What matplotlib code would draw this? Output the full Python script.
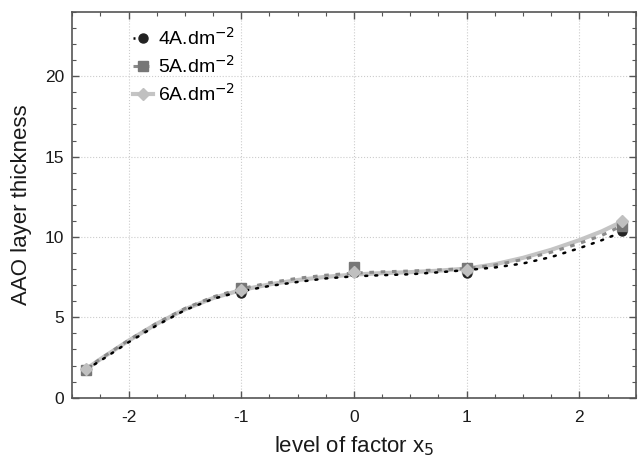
import numpy as np
import matplotlib.pyplot as plt

plt.rcParams['font.family'] = ['Liberation Sans', 'DejaVu Sans']
plt.rcParams['axes.unicode_minus'] = False

# design points of factor x5 (star points at +-2.378)
x_pts = [-2.378, -1, 0, 1, 2.378]
y_4a = [1.75, 6.5, 7.8, 7.75, 10.35]
y_5a = [1.75, 6.8, 8.1, 8.05, 10.7]
y_6a = [1.8, 6.7, 7.85, 7.95, 11.0]

# model curves sampled along x5
x_fit = [-2.378, -2.25, -2, -1.75, -1.5, -1.25, -1, -0.75, -0.5, -0.25, 0,
         0.25, 0.5, 0.75, 1, 1.25, 1.5, 1.75, 2, 2.2, 2.378]
fit_4a = [1.75, 2.3, 3.45, 4.5, 5.45, 6.15, 6.62, 6.95, 7.2, 7.42, 7.55,
          7.62, 7.68, 7.8, 7.94, 8.1, 8.35, 8.75, 9.3, 9.8, 10.3]
fit_5a = [1.78, 2.42, 3.58, 4.64, 5.55, 6.27, 6.78, 7.15, 7.43, 7.62, 7.75,
          7.83, 7.88, 7.95, 8.03, 8.25, 8.6, 9.05, 9.6, 10.1, 10.7]
fit_6a = [1.78, 2.4, 3.55, 4.6, 5.5, 6.2, 6.7, 7.05, 7.32, 7.52, 7.66,
          7.75, 7.81, 7.9, 8.03, 8.3, 8.7, 9.2, 9.8, 10.35, 10.95]

fig = plt.figure(figsize=(6.41, 4.59), dpi=100)
ax = fig.add_axes([0.1128, 0.1336, 0.8789, 0.8404])

ax.plot(x_fit, fit_6a, color='#c4c4c4', lw=3.0, solid_capstyle='round', zorder=2)
ax.plot(x_fit, fit_5a, color='#8a8a8a', lw=2.2, linestyle=(0, (1.5, 2.2)), zorder=3)
ax.plot(x_fit, fit_4a, color='black', lw=1.8, linestyle=(0, (0.8, 3.2)),
        dash_capstyle='round', zorder=4)

ax.plot(x_pts, y_4a, 'o', color='#222222', ms=6.5, zorder=5)
ax.plot(x_pts, y_5a, 's', color='#777777', ms=6.5, zorder=6)
ax.plot(x_pts, y_6a, 'D', color='#c0c0c0', ms=6, zorder=7)

# legend entries
h4, = ax.plot([], [], color='black', lw=1.8, linestyle=(0, (0.8, 3.2)),
              marker='o', ms=6.5, mfc='#222222', mec='#222222')
h5, = ax.plot([], [], color='#8a8a8a', lw=2.2, linestyle=(0, (1.5, 2.2)),
              marker='s', ms=6.5, mfc='#777777', mec='#777777')
h6, = ax.plot([], [], color='#c4c4c4', lw=3.0,
              marker='D', ms=6, mfc='#c0c0c0', mec='#c0c0c0')
ax.legend([h4, h5, h6], ['4A.dm$^{-2}$', '5A.dm$^{-2}$', '6A.dm$^{-2}$'],
          loc='upper left', bbox_to_anchor=(0.108, 0.96), frameon=False,
          fontsize=14, handlelength=1.0, handletextpad=0.3,
          labelspacing=0.3, numpoints=1, borderpad=0, borderaxespad=0)

ax.set_xlim(-2.5, 2.5)
ax.set_ylim(0, 24)
ax.set_xticks([-2, -1, 0, 1, 2])
ax.set_yticks([0, 5, 10, 15, 20])
ax.set_xticks(np.arange(-2.5, 2.51, 0.25), minor=True)
ax.set_yticks(np.arange(0, 24.1, 1), minor=True)
ax.tick_params(which='both', direction='in', top=True, right=True,
               color='#555555', labelsize=12.5, labelcolor='#1a1a1a')
ax.tick_params(which='major', length=5, width=1)
ax.tick_params(which='minor', length=3, width=0.8)
ax.tick_params(axis='x', pad=9)
ax.tick_params(axis='y', pad=6)
ax.grid(True, which='major', linestyle=':', color='#cccccc', lw=0.8)
for s in ax.spines.values():
    s.set_color('#555555')
    s.set_linewidth(1.2)

ax.set_xlabel('level of factor x$_5$', fontsize=16, color='#1a1a1a', labelpad=7)
ax.set_ylabel('AAO layer thickness', fontsize=16, color='#1a1a1a', labelpad=9)

fig.savefig('out.png', dpi=100)
